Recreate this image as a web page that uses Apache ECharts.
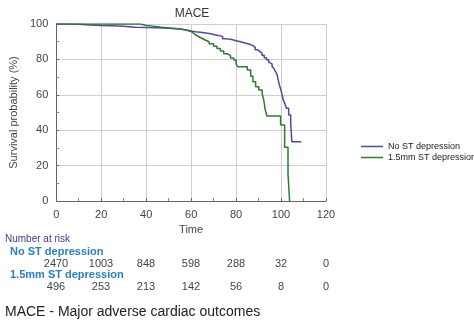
<!DOCTYPE html>
<html><head><meta charset="utf-8">
<script src="https://cdn.jsdelivr.net/npm/echarts@6/dist/echarts.min.js"></script>
<style>html,body{margin:0;padding:0;background:#fff}#c{width:474px;height:323px}</style>
</head><body><div id="c"></div>
<script>
// ---- data ----
var seriesNames = ['No ST depression', '1.5mm ST depression'];
var noST = [[0,100],[5,99.8],[10,99.5],[15,99.2],[20,99],[25,98.7],[30,98.2],[35,98],[40,97.9],[45,97.6],[50,97.2],[55,96.6],[58,96],[60,95.6],[62,95.2],[65,94.6],[68,93.8],[71,93],[74,91.6],[76,91.2],[78,90.5],[80,90],[82,89.3],[84,88.6],[86,87.8],[87.5,86.8],[88.5,85.5],[89.5,84.5],[90.5,83.5],[91.5,82.3],[92.5,81],[93.5,79.8],[94.5,78.5],[95.3,77.5],[96,76],[96.8,74.8],[97.5,73.3],[98.2,71.5],[98.8,68],[99.4,65],[100,62.5],[100.5,59.8],[101,57],[101.7,55],[102.4,52.4],[103.4,48.6],[104.3,44],[104.8,33.5],[109,33.5]];
var st15 = [[0,100],[37,99.8],[38,99.2],[40,98.8],[43,98.3],[46,97.8],[50,97.3],[54,97],[56,96.4],[58,95.8],[60,94.9],[61,93.8],[62,92.8],[63.5,91.8],[65,90.8],[66.5,90],[68,88.8],[70,87.5],[71.5,86.2],[73,84.8],[74.5,83.2],[76,82.3],[77.5,80.8],[79,79.6],[80,77.5],[80.8,75.8],[85,74],[86.5,70.5],[87.5,67.4],[88.7,64.6],[90.1,62.7],[91.6,60.8],[92.3,57.1],[93,51.4],[93.7,48],[99.8,43],[101.6,30.3],[103.1,15.3],[103.8,0]];
var riskTimes = [0, 20, 40, 60, 80, 100, 120];
var riskNoST = [2470, 1003, 848, 598, 288, 32, 0];
var riskST15 = [496, 253, 213, 142, 56, 8, 0];
var xTicks = {min: 0, max: 120, interval: 20};
var yTicks = {min: 0, max: 100, interval: 20};

var colors = ['#4a4aa6', '#2f7a2f'];
var font = 'Liberation Sans, Arial, sans-serif';
var chart = echarts.init(document.getElementById('c'));
function axisCommon() {
  return {
    axisLine: {show: true, lineStyle: {color: '#666', width: 1}},
    axisTick: {show: true, inside: true, length: 3, lineStyle: {color: '#666'}},
    minorTick: {show: true, splitNumber: 2, length: 3, lineStyle: {color: '#888'}},
    splitLine: {show: true, lineStyle: {color: '#cfcfcf', width: 1, type: 'solid'}},
    axisLabel: {color: '#444', fontSize: 11, fontFamily: font, margin: 5},
    nameTextStyle: {color: '#444', fontSize: 11, fontFamily: font}
  };
}
chart.setOption({
  animation: false,
  title: {text: 'MACE', left: 187, textAlign: 'center', top: 3,
    textStyle: {fontSize: 12, fontWeight: 'normal', color: '#333', fontFamily: font}},
  legend: {orient: 'vertical', left: 356, top: 137, itemWidth: 22, itemHeight: 1.5, itemGap: 2,
    icon: 'rect', data: seriesNames,
    textStyle: {fontSize: 9, color: '#222', fontFamily: font}},
  grid: [
    {left: 48, top: 24, width: 278, height: 177},
    {left: 56, top: 300, width: 270, height: 1, show: false}
  ],
  xAxis: [
    Object.assign(axisCommon(), {type: 'value', gridIndex: 0, min: xTicks.min, max: xTicks.max, interval: xTicks.interval,
      offset: 3, name: 'Time', nameLocation: 'middle', nameGap: 20}),
    {type: 'value', gridIndex: 1, min: xTicks.min, max: xTicks.max, show: false}
  ],
  yAxis: [
    Object.assign(axisCommon(), {type: 'value', gridIndex: 0, min: yTicks.min, max: yTicks.max, interval: yTicks.interval,
      offset: 3, name: 'Survival probability (%)', nameLocation: 'middle', nameGap: 28}),
    {type: 'value', gridIndex: 1, show: false}
  ],
  series: [
    {name: seriesNames[0], type: 'line', step: 'end', data: noST, showSymbol: false, symbol: 'none',
      lineStyle: {color: colors[0], width: 1.5}, itemStyle: {color: colors[0]}},
    {name: seriesNames[1], type: 'line', step: 'end', data: st15, showSymbol: false, symbol: 'none',
      lineStyle: {color: colors[1], width: 1.5}, itemStyle: {color: colors[1]}}
  ]
});

var g = [
  {type: 'text', left: 5, top: 234, style: {text: 'Number at risk', fontSize: 10, fill: '#45388c', fontFamily: font}},
  {type: 'text', left: 10, top: 246, style: {text: seriesNames[0], fontSize: 11, fontWeight: 'bold', fill: '#2a80c4', fontFamily: font}},
  {type: 'text', left: 10, top: 269, style: {text: seriesNames[1], fontSize: 11, fontWeight: 'bold', fill: '#2a80c4', fontFamily: font}},
  {type: 'text', left: 5, top: 305, style: {text: 'MACE - Major adverse cardiac outcomes', fontSize: 14, fill: '#222', fontFamily: font}}
];
riskTimes.forEach(function (t, i) {
  var x = chart.convertToPixel({xAxisIndex: 1}, t);
  g.push({type: 'text', x: x, y: 264, style: {text: String(riskNoST[i]), fontSize: 11, fill: '#444', fontFamily: font, textAlign: 'center', textVerticalAlign: 'middle'}});
  g.push({type: 'text', x: x, y: 287, style: {text: String(riskST15[i]), fontSize: 11, fill: '#444', fontFamily: font, textAlign: 'center', textVerticalAlign: 'middle'}});
});
chart.setOption({graphic: g});
</script>
</body></html>
